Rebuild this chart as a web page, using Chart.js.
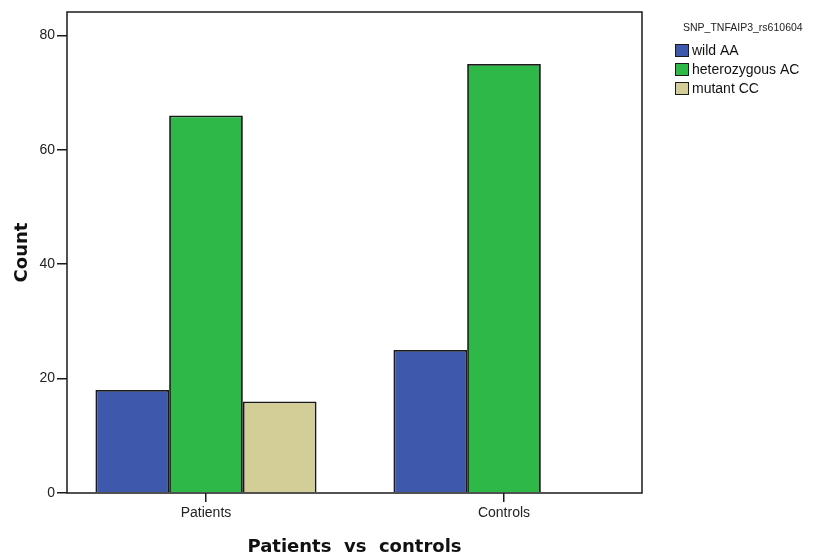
<!DOCTYPE html>
<html>
<head>
<meta charset="utf-8">
<script src="https://cdn.jsdelivr.net/npm/chart.js@4"></script>
<style>
  html, body { margin: 0; padding: 0; background: #fff; }
  #wrap { width: 815px; height: 556px; }
</style>
</head>
<body>
<div id="wrap"><canvas id="genotype_chart" width="815" height="556"></canvas></div>
<script>
// data
const groups = ['Patients', 'Controls'];
const genotypes = ['wild AA', 'heterozygous AC', 'mutant CC'];
const wildAA = [18, 25];
const heteroAC = [66, 75];
const mutantCC = [16, null];   // no mutant CC among the controls
const yTicks = [0, 20, 40, 60, 80];
const legendTitle = 'SNP_TNFAIP3_rs610604';

const colors = ['#3e58ac', '#2eb848', '#d3ce97'];
const tickFont = { family: '"Liberation Sans", Arial, sans-serif', size: 14 };
const titleFont = { family: '"DejaVu Sans", Verdana, sans-serif', size: 18, weight: 'bold', lineHeight: 1 };

// groups sit on positions 0 and 1 of a numeric x axis
const toPoints = (values) => values.map((v, i) => ({ x: i, y: v }));

const dataSets = [wildAA, heteroAC, mutantCC].map((values, i) => ({
    label: genotypes[i],
    data: toPoints(values),
    backgroundColor: colors[i],
    borderColor: '#1a1a1a',
    borderWidth: 1.8,
    borderSkipped: 'bottom',
    categoryPercentage: 0.742,
    barPercentage: 1.0,
}));

// black frame round the plot area
const framePlugin = {
    id: 'frame',
    afterDatasetsDraw(chart) {
        const a = chart.chartArea;
        const ctx = chart.ctx;
        ctx.save();
        ctx.strokeStyle = '#1a1a1a';
        ctx.lineWidth = 1.5;
        ctx.strokeRect(a.left, a.top, a.right - a.left, a.bottom - a.top);
        ctx.restore();
    }
};

// SPSS style legend at the top right
const legendPlugin = {
    id: 'spssLegend',
    afterDraw(chart) {
        const ctx = chart.ctx;
        const x0 = chart.chartArea.right + 33;
        ctx.save();
        ctx.fillStyle = '#222';
        ctx.font = '10.5px "Liberation Sans", Arial, sans-serif';
        ctx.textAlign = 'left';
        ctx.textBaseline = 'middle';
        ctx.fillText(legendTitle, x0 + 8, 28);

        ctx.font = '14px "Liberation Sans", Arial, sans-serif';
        chart.data.datasets.forEach((ds, i) => {
            const top = 44 + i * 19;
            ctx.fillStyle = ds.backgroundColor;
            ctx.fillRect(x0, top, 14, 13);
            ctx.strokeStyle = '#1a1a1a';
            ctx.lineWidth = 1;
            ctx.strokeRect(x0 + 0.5, top + 0.5, 13, 12);
            ctx.fillStyle = '#111';
            ctx.fillText(ds.label, x0 + 17, top + 7);
        });
        ctx.restore();
    }
};

const ctx = document.getElementById('genotype_chart').getContext('2d');

const config = {
    type: 'bar',
    data: {
        datasets: dataSets,
    },
    options: {
        responsive: false,
        animation: false,
        layout: {
            padding: { top: 12, right: 173, bottom: 0, left: 0 }
        },
        plugins: {
            legend: { display: false },
            tooltip: { enabled: false },
        },
        scales: {
            x: {
                type: 'linear',
                offset: false,
                min: -0.4664,
                max: 1.4631,
                afterBuildTicks: (scale) => {
                    scale.ticks = groups.map((g, i) => ({ value: i }));
                },
                afterFit: (scale) => { scale.height = 63; },
                ticks: {
                    callback: (value) => groups[value],
                    font: tickFont,
                    color: '#222',
                    padding: 3,
                    maxRotation: 0,
                },
                grid: {
                    offset: false,
                    drawOnChartArea: false,
                    tickLength: 9,
                    color: '#1a1a1a',
                    lineWidth: 1.5,
                },
                border: { display: false },
                title: {
                    display: true,
                    text: 'Patients  vs  controls',
                    color: '#111',
                    font: titleFont,
                    padding: { top: 0, bottom: 0 },
                }
            },
            y: {
                min: 0,
                max: 84.1,
                afterBuildTicks: (scale) => {
                    scale.ticks = yTicks.map((v) => ({ value: v }));
                },
                afterFit: (scale) => { scale.width = 67; },
                ticks: {
                    font: tickFont,
                    color: '#222',
                    padding: 2,
                },
                grid: {
                    drawOnChartArea: false,
                    tickLength: 10,
                    color: '#1a1a1a',
                    lineWidth: 1.5,
                },
                border: { display: false },
                title: {
                    display: true,
                    text: 'Count',
                    color: '#111',
                    font: titleFont,
                    padding: { top: 13, bottom: 0 },
                }
            }
        }
    },
    plugins: [framePlugin, legendPlugin]
};

const chart = new Chart(ctx, config);
</script>
</body>
</html>
